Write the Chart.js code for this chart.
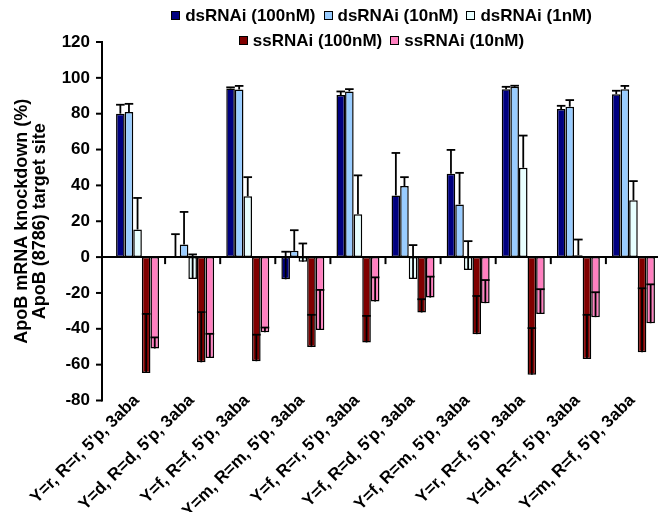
<!DOCTYPE html>
<html>
<head>
<meta charset="utf-8">
<script src="https://cdn.jsdelivr.net/npm/chart.js@4.4.0/dist/chart.umd.min.js"></script>
<style>
  body { margin: 0; background: #fff; overflow: hidden; }
  #wrap { position: relative; width: 661px; height: 512px; }
  #legend { position: absolute; top: 0; left: 102px; width: 559px; font: bold 17px "Liberation Sans", Arial, sans-serif; color: #000; }
  .row { display: flex; justify-content: center; height: 25px; line-height: 20px; }
  .row:first-child { margin-top: 3px; }
  .item { display: flex; align-items: center; margin: 0 4px; white-space: nowrap; }
  .sw { width: 7px; height: 7px; border: 1.5px solid #000; margin-right: 5px; }
</style>
</head>
<body>
<div id="wrap">
  <canvas id="knockdownChart"></canvas>
  <div id="legend"></div>
</div>
<script>
// Set Chart.js defaults
Chart.defaults.font.family = '"Liberation Sans", Arial, sans-serif';
Chart.defaults.font.size = 17;
Chart.defaults.font.weight = 'bold';
Chart.defaults.color = '#000';

// --- Data ---
const categories = [
  "Y=r, R=r, 5'p, 3aba", "Y=d, R=d, 5'p, 3aba", "Y=f, R=f, 5'p, 3aba", "Y=m, R=m, 5'p, 3aba",
  "Y=f, R=r, 5'p, 3aba", "Y=f, R=d, 5'p, 3aba", "Y=f, R=m, 5'p, 3aba", "Y=r, R=f, 5'p, 3aba",
  "Y=d, R=f, 5'p, 3aba", "Y=m, R=f, 5'p, 3aba"
];
const seriesNames = ['dsRNAi (100nM)', 'dsRNAi (10nM)', 'dsRNAi (1nM)', 'ssRNAi (100nM)', 'ssRNAi (10nM)'];
const seriesColors = ['#000080', '#99CCFF', '#E8FFFF', '#800000', '#FF80C0'];

const ds100 = [80, 0, 94.1, -12.4, 90.4, 34.4, 46.5, 93.7, 82.6, 90.9];
const ds10 = [81, 7, 93.5, 3.5, 92.4, 39.6, 29.4, 95, 83.9, 93.7];
const ds1 = [15.4, -12.2, 33.9, -2.6, 23.9, -12.2, -7.2, 49.8, 1, 31.7];
const ss100 = [-64.6, -58.7, -58.1, -50.2, -47.6, -30.9, -43, -65.6, -56.9, -53.1];
const ss10 = [-51, -56.3, -41.9, -40.6, -24.8, -22.6, -25.7, -31.7, -33.5, -36.9];

// error bars (drawn upward from the bar end)
const ds100Err = [5, 12.8, 0.6, 15.4, 2, 23.7, 13.3, 1.3, 1.8, 1.9];
const ds10Err = [4.5, 18.2, 2, 11.5, 1.3, 5, 17.6, 0.6, 3.7, 1.8];
const ds1Err = [17.6, 13.7, 10.7, 10.2, 21.7, 18.9, 16.1, 18, 8.8, 10.7];
const ss100Err = [32.9, 28, 14.8, 18, 14.8, 7.4, 21.3, 26, 24.7, 35.7];
const ss10Err = [6.2, 13.5, 2.6, 22.3, 13.5, 11.7, 12.9, 13.8, 13.9, 21.7];

const yTicks = [-80, -60, -40, -20, 0, 20, 40, 60, 80, 100, 120];

const values = [ds100, ds10, ds1, ss100, ss10];
const errors = [ds100Err, ds10Err, ds1Err, ss100Err, ss10Err];

// --- HTML legend (3 + 2 rows like the original) ---
const legendEl = document.getElementById('legend');
[[0, 1, 2], [3, 4]].forEach(rowIdx => {
  const row = document.createElement('div');
  row.className = 'row';
  rowIdx.forEach(i => {
    const item = document.createElement('span');
    item.className = 'item';
    item.innerHTML = `<span class="sw" style="background:${seriesColors[i]}"></span>${seriesNames[i]}`;
    row.appendChild(item);
  });
  legendEl.appendChild(row);
});

// --- Axis lines, zero line, group ticks and error bars ---
const decorPlugin = {
  id: 'decor',
  afterDatasetsDraw(chart) {
    const { ctx, chartArea, scales: { x, y } } = chart;
    const axisX = chartArea.left - 8;
    const y0 = y.getPixelForValue(0);
    const line = (x1, y1, x2, y2) => { ctx.beginPath(); ctx.moveTo(x1, y1); ctx.lineTo(x2, y2); ctx.stroke(); };
    ctx.save();
    ctx.strokeStyle = '#000';
    ctx.lineWidth = 2;
    line(axisX, y.getPixelForValue(yTicks[yTicks.length - 1]) - 1, axisX, y.getPixelForValue(yTicks[0]) + 1);
    yTicks.forEach(v => { const py = y.getPixelForValue(v); line(axisX - 6, py, axisX, py); });
    line(axisX, y0, chartArea.right, y0);
    for (let i = 0; i < categories.length - 1; i++) {
      const bx = (x.getPixelForValue(i) + x.getPixelForValue(i + 1)) / 2;
      line(bx, y0, bx, y0 + 7);
    }
    // error bars
    ctx.lineWidth = 1.8;
    values.forEach((vals, d) => {
      const meta = chart.getDatasetMeta(d);
      meta.data.forEach((bar, j) => {
        const e = errors[d][j];
        const yEnd = y.getPixelForValue(vals[j] + e);
        const yStart = y.getPixelForValue(vals[j]);
        const half = bar.width / 2;
        line(bar.x, yStart, bar.x, yEnd);
        line(bar.x - half, yEnd, bar.x + half, yEnd);
      });
    });
    ctx.restore();
  }
};

const ctx = document.getElementById('knockdownChart').getContext('2d');
const knockdownChart = new Chart(ctx, {
  type: 'bar',
  data: {
    labels: categories,
    datasets: values.map((vals, i) => ({
      label: seriesNames[i],
      data: vals,
      backgroundColor: seriesColors[i],
      borderColor: '#000',
      borderWidth: 1.5,
      borderSkipped: false,
      barPercentage: 1,
      categoryPercentage: 0.78
    }))
  },
  options: {
    responsive: true, maintainAspectRatio: false, animation: false,
    layout: { padding: { top: 42, right: 0, bottom: 0, left: 0 } },
    plugins: { legend: { display: false }, tooltip: { enabled: false } },
    scales: {
      x: {
        grid: { display: false }, border: { display: false },
        ticks: { autoSkip: false, maxRotation: 45, minRotation: 45, padding: -18, labelOffset: -1 },
        afterFit: s => { s.height = 111.5; },
        // labels sit partly beside the plot bottom, so don't clip them to the axis box
        afterUpdate: s => { s._computeLabelArea = () => undefined; }
      },
      y: {
        min: -80, max: 120,
        grid: { display: false, drawTicks: false }, border: { display: false },
        ticks: { stepSize: 20, padding: 20 },
        title: {
          display: true,
          text: ['ApoB mRNA knockdown (%)', 'ApoB (8786) target site'],
          font: { size: 18, weight: 'bold', lineHeight: 1.0 },
          padding: { top: 13, bottom: 0 }
        },
        afterFit: s => { s.width = 110; }
      }
    }
  },
  plugins: [decorPlugin]
});
</script>
</body>
</html>
